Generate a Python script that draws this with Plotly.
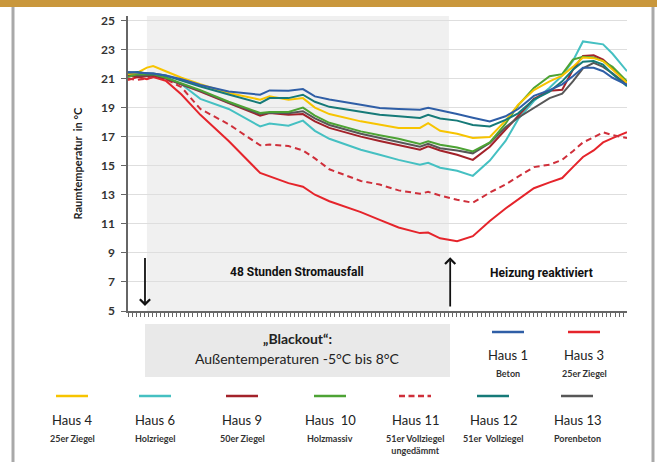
import plotly.graph_objects as go

# ---------------- data (hours relative to start of blackout) ----------------
hours = [-3, -1.5, 0, 1, 3, 5.5, 8.5, 13, 18, 19.5, 22.5, 24.8, 26.7, 29, 34, 37, 40,
         43.4, 44.7, 46.6, 49.3, 51.8, 54.5, 57, 59, 61.5, 64, 66, 67.7, 69.3, 71, 72.5, 74, 76.3]

haus1 = [21.45, 21.4, 21.4, 21.35, 21.2, 20.95, 20.55, 20.1, 19.88, 20.18, 20.16, 20.27, 19.77, 19.55,
         19.2, 18.97, 18.9, 18.85, 18.98, 18.82, 18.55, 18.3, 18.04, 18.4, 18.9, 19.8, 20.2, 20.6,
         21.15, 21.74, 21.74, 21.5, 21.05, 20.57]
haus3 = [20.9, 21.1, 20.95, 21.1, 20.85, 19.9, 18.5, 16.7, 14.5, 14.25, 13.8, 13.55, 13.0, 12.55,
         11.8, 11.27, 10.75, 10.36, 10.4, 10.0, 9.8, 10.15, 11.2, 12.05, 12.7, 13.45, 13.85, 14.15,
         14.9, 15.6, 16.05, 16.6, 16.9, 17.3]
haus4 = [21.3, 21.4, 21.75, 21.85, 21.5, 21.05, 20.6, 20.0, 19.54, 19.77, 19.54, 19.65, 19.0, 18.55,
         18.05, 17.8, 17.6, 17.6, 17.93, 17.4, 17.2, 16.9, 16.97, 18.1, 19.2, 20.2, 20.8, 21.2,
         21.8, 22.45, 22.4, 22.2, 21.6, 20.7]
haus6 = [21.3, 21.35, 21.35, 21.3, 21.1, 20.6, 19.6, 18.9, 17.7, 17.9, 17.75, 18.1, 17.4, 16.85,
         16.1, 15.75, 15.4, 15.07, 15.2, 14.86, 14.65, 14.3, 15.35, 16.7, 18.2, 19.45, 20.36, 21.2,
         22.2, 23.55, 23.45, 23.35, 22.7, 21.5]
haus9 = [21.2, 21.1, 21.15, 21.2, 21.0, 20.6, 20.1, 19.3, 18.44, 18.62, 18.5, 18.55, 18.05, 17.6,
         17.0, 16.7, 16.4, 16.1, 16.33, 16.05, 15.75, 15.4, 16.3, 17.5, 18.4, 19.6, 20.15, 20.23,
         21.6, 22.55, 22.6, 22.3, 21.7, 20.7]
haus10 = [21.1, 21.3, 21.3, 21.3, 21.05, 20.65, 20.2, 19.4, 18.63, 18.7, 18.7, 19.0, 18.45, 17.95,
          17.36, 17.1, 16.85, 16.5, 16.67, 16.44, 16.25, 15.98, 16.6, 17.9, 19.15, 20.35, 21.15, 21.3,
          22.3, 22.5, 22.45, 22.2, 21.8, 20.8]
haus11 = [21.0, 20.9, 21.0, 21.1, 20.95, 20.4, 18.9, 17.85, 16.4, 16.45, 16.35, 16.05, 15.5, 14.75,
          13.95, 13.7, 13.3, 13.07, 13.2, 12.95, 12.65, 12.45, 13.15, 13.7, 14.25, 14.9, 15.07, 15.4,
          16.0, 16.6, 16.95, 17.3, 17.1, 16.9]
haus12 = [21.4, 21.45, 21.35, 21.35, 21.2, 20.85, 20.45, 19.9, 19.3, 19.65, 19.65, 19.88, 19.4, 19.05,
          18.7, 18.5, 18.4, 18.28, 18.5, 18.25, 18.1, 17.8, 17.7, 18.15, 18.6, 19.55, 20.1, 20.8,
          21.6, 22.15, 22.2, 21.95, 21.3, 20.46]
haus13 = [21.3, 21.2, 21.2, 21.25, 21.05, 20.6, 20.15, 19.35, 18.55, 18.65, 18.6, 18.75, 18.25, 17.8,
          17.2, 16.9, 16.65, 16.3, 16.5, 16.2, 16.05, 15.85, 16.57, 17.65, 18.3, 19.0, 19.65, 19.95,
          20.8, 21.7, 22.07, 21.8, 21.35, 20.57]

series_names = ["Haus 3", "Haus 11", "Haus 6", "Haus 9", "Haus 13", "Haus 10", "Haus 4", "Haus 12", "Haus 1"]
series_values = [haus3, haus11, haus6, haus9, haus13, haus10, haus4, haus12, haus1]

y_ticks = [5, 7, 9, 11, 13, 15, 17, 19, 21, 23, 25]
blackout_hours = [0, 48]

# legend entries: (name, subtitle)
legend_row1 = [("Haus 1", "Beton"), ("Haus 3", "25er Ziegel")]
legend_row2 = [("Haus 4", "25er Ziegel"), ("Haus 6", "Holzriegel"), ("Haus 9", "50er Ziegel"),
               ("Haus  10", "Holzmassiv"), ("Haus 11", "51er Vollziegel<br>ungedämmt"),
               ("Haus 12", "51er  Vollziegel"), ("Haus 13", "Porenbeton")]

# ---------------- styles ----------------
colors = {"Haus 1": "#2f5ea6", "Haus 3": "#e5242b", "Haus 4": "#f7c400", "Haus 6": "#45c0c2",
          "Haus 9": "#a3222a", "Haus 10": "#4da334", "Haus  10": "#4da334", "Haus 11": "#cf2f3a",
          "Haus 12": "#167a78", "Haus 13": "#575757"}
dashes = {"Haus 11": "6px,4px"}

FONT = "Lato, Open Sans, sans-serif"
NARROW = "Roboto, Liberation Sans Narrow, sans-serif"

L, R, T, B = 128, 30, 16, 151
W, H = 657, 462
PW, PH = W - L - R, H - T - B


def pxx(x):
    return (x - L) / PW


def pxy(y):
    return (H - B - y) / PH


fig = go.Figure()
for name, vals in zip(series_names, series_values):
    fig.add_trace(go.Scatter(x=hours, y=vals, mode="lines", name=name,
                             line=dict(color=colors[name], width=2, dash=dashes.get(name, "solid"))))

shapes = []
# blackout shading
shapes.append(dict(type="rect", xref="x", yref="paper", x0=blackout_hours[0], x1=blackout_hours[1],
                   y0=0, y1=1, fillcolor="#f0f0f0", line=dict(width=0), layer="below"))
# top gold bar
shapes.append(dict(type="rect", xref="paper", yref="paper", x0=pxx(-2), x1=pxx(W + 2), y0=pxy(7), y1=pxy(-2),
                   fillcolor="#c9973c", line=dict(width=0)))
# side borders
for xb in (13, 653):
    shapes.append(dict(type="line", xref="paper", yref="paper", x0=pxx(xb), x1=pxx(xb), y0=pxy(7),
                       y1=pxy(H + 2), line=dict(color="#a9a9a9", width=3)))
# blackout info box
shapes.append(dict(type="rect", xref="paper", yref="paper", x0=pxx(145), x1=pxx(450), y0=pxy(377),
                   y1=pxy(324), fillcolor="#e9e9e9", line=dict(width=0)))

annotations = []


def label(text, x, y, size, family=FONT, color="#222", weight="normal", yanchor="middle", **kw):
    annotations.append(dict(text=text, x=pxx(x), y=pxy(y), xref="paper", yref="paper", showarrow=False,
                            xanchor="center", yanchor=yanchor,
                            font=dict(family=family, size=size, color=color, weight=weight), **kw))


# y axis title
label("Raumtemperatur  in °C", 77, (T + H - B) / 2, 11, weight="bold", textangle=-90)
# arrows
annotations.append(dict(x=blackout_hours[0] - 0.3, y=5.35, ax=blackout_hours[0] - 0.3, ay=8.75,
                        xref="x", yref="y", axref="x", ayref="y", text="", showarrow=True,
                        arrowhead=4, arrowsize=1.1, arrowwidth=1.8, arrowcolor="#111"))
annotations.append(dict(x=blackout_hours[1] + 0.2, y=8.7, ax=blackout_hours[1] + 0.2, ay=5.2,
                        xref="x", yref="y", axref="x", ayref="y", text="", showarrow=True,
                        arrowhead=4, arrowsize=1.1, arrowwidth=1.8, arrowcolor="#111"))
label("48 Stunden Stromausfall", 297, 272, 12, family=NARROW, color="#111", weight="bold")
label("Heizung reaktiviert", 541, 273, 12, family=NARROW, color="#111", weight="bold")
label("„Blackout“:", 297, 338, 14, weight="bold")
label("Außentemperaturen -5°C bis 8°C", 297, 358, 14)


def legend_item(name, sub, cx, line_y, text_y, sub_y):
    shapes.append(dict(type="line", xref="paper", yref="paper", x0=pxx(cx - 16), x1=pxx(cx + 16),
                       y0=pxy(line_y), y1=pxy(line_y),
                       line=dict(color=colors[name], width=2.5,
                                 dash="6px,3.5px" if name == "Haus 11" else "solid")))
    label(name, cx, text_y, 13)
    label(sub, cx, sub_y, 9, color="#333", weight="bold", yanchor="top")


for (name, sub), cx in zip(legend_row1, [508, 584]):
    legend_item(name, sub, cx, 332, 355, 366)
for (name, sub), cx in zip(legend_row2, [72, 155, 242, 330, 415, 493, 577]):
    legend_item(name, sub, cx, 396, 420, 431)

fig.update_layout(
    width=W, height=H, margin=dict(l=L, r=R, t=T, b=B),
    paper_bgcolor="white", plot_bgcolor="white", showlegend=False,
    shapes=shapes, annotations=annotations,
    xaxis=dict(range=[-3, 76.3], showgrid=False, zeroline=False, showline=True, linecolor="#666",
               linewidth=1.5, ticks="outside", ticklen=4, tickcolor="#666", tick0=-3, dtick=0.645,
               showticklabels=False),
    yaxis=dict(range=[5, 25.3], tickvals=y_ticks, showgrid=True, gridcolor="#dedede", gridwidth=1,
               zeroline=False, showline=True, linecolor="#666", linewidth=1.5, ticks="outside",
               ticklen=5, tickcolor="#666", ticklabelstandoff=4,
               tickfont=dict(family=FONT, size=12, color="#333", weight="bold")),
)

fig.write_html("out.html", config={"displayModeBar": False},
               post_script="document.body.style.margin='0';document.body.style.overflow='hidden';")
